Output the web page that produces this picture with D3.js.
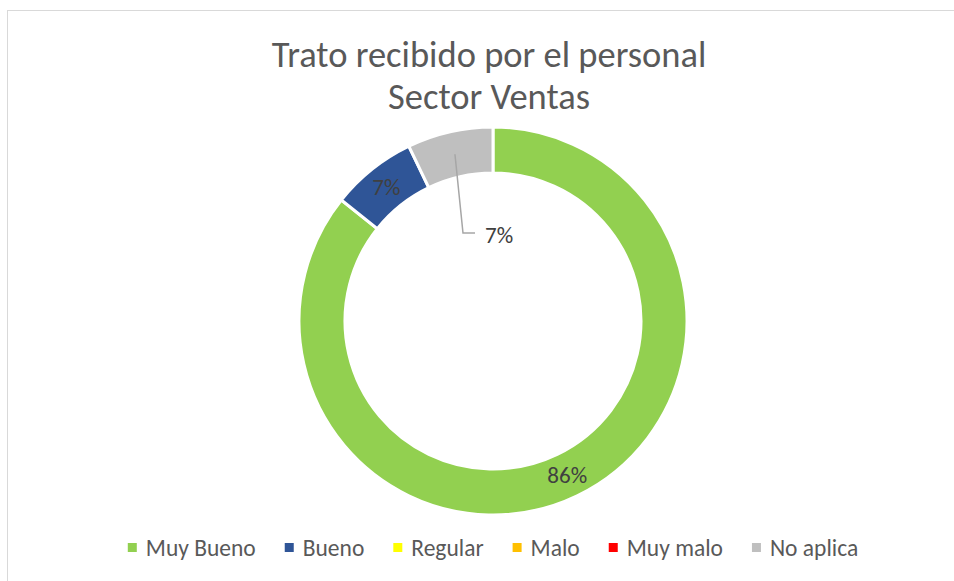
<!DOCTYPE html>
<html>
<head>
<meta charset="utf-8">
<script src="https://cdn.jsdelivr.net/npm/d3@7"></script>
<style>
  body { margin: 0; background: #fff; }
  svg { display: block; font-family: Calibri, Carlito, Lato, sans-serif; }
</style>
</head>
<body>
<svg id="chart" width="954" height="581"></svg>
<script>
// data
var categories = ["Muy Bueno", "Bueno", "Regular", "Malo", "Muy malo", "No aplica"];
var values = [12, 1, 0, 0, 0, 1];
var colors = ["#92d050", "#2f5597", "#ffff00", "#ffc000", "#ff0000", "#bfbfbf"];
var titleLines = ["Trato recibido por el personal", "Sector Ventas"];

var width = 954, height = 581;
var cx = 493, cy = 321;
var outerR = 194, innerR = 148;

var svg = d3.select("#chart");

// chart area border
svg.append("rect")
    .attr("x", 7.5)
    .attr("y", 10.5)
    .attr("width", width)
    .attr("height", height)
    .attr("fill", "#fff")
    .attr("stroke", "#d9d9d9")
    .attr("stroke-width", 1);

// title
svg.append("g").selectAll("text")
  .data(titleLines)
  .enter()
  .append("text")
    .attr("x", 489)
    .attr("y", function(d, i) { return 67 + i * 42; })
    .attr("text-anchor", "middle")
    .attr("fill", "#595959")
    .style("font-size", "36.5px")
    .text(function(d) { return d; });

var data = categories.map(function(c, i) {
  return {name: c, value: values[i], color: colors[i]};
});
var total = d3.sum(values);

var pie = d3.pie()
    .sort(null)
    .value(function(d) { return d.value; });

var arc = d3.arc()
    .innerRadius(innerR)
    .outerRadius(outerR);

var labelArc = d3.arc()
    .innerRadius((innerR + outerR) / 2)
    .outerRadius((innerR + outerR) / 2);

var arcs = pie(data);

var g = svg.append("g")
    .attr("transform", "translate(" + cx + "," + cy + ")");

g.selectAll("path")
  .data(arcs.filter(function(d) { return d.value > 0; }))
  .enter()
  .append("path")
    .attr("d", arc)
    .attr("fill", function(d) { return d.data.color; })
    .attr("stroke", "#fff")
    .attr("stroke-width", 3);

var fmt = function(d) { return Math.round(d.value / total * 100) + "%"; };

// labels inside the ring (Muy Bueno, Bueno)
g.selectAll("text.inlabel")
  .data(arcs.filter(function(d) { return d.value > 0 && d.data.name !== "No aplica"; }))
  .enter()
  .append("text")
    .attr("class", "inlabel")
    .attr("transform", function(d) { return "translate(" + labelArc.centroid(d) + ")"; })
    .attr("text-anchor", "middle")
    .attr("dy", "0.35em")
    .attr("fill", "#404040")
    .style("font-size", "23px")
    .text(fmt);

// No aplica label moved inward with leader line
var naArc = arcs[5];
var start = labelArc.centroid(naArc);
var labelPos = [-30, -88];
g.append("path")
    .attr("d", d3.line()([start, [labelPos[0], labelPos[1]], [labelPos[0] + 12, labelPos[1]]]))
    .attr("fill", "none")
    .attr("stroke", "#a6a6a6")
    .attr("stroke-width", 1.5);

g.append("text")
    .attr("x", labelPos[0] + 22)
    .attr("y", labelPos[1] + 2)
    .attr("dy", "0.35em")
    .attr("fill", "#404040")
    .style("font-size", "23px")
    .text(fmt(naArc));

// legend
var legend = svg.append("g");
var items = legend.selectAll("g")
  .data(data)
  .enter()
  .append("g");

items.append("rect")
    .attr("width", 9)
    .attr("height", 9)
    .attr("y", 543)
    .attr("fill", function(d) { return d.color; });

items.append("text")
    .attr("x", 18)
    .attr("y", 556)
    .attr("fill", "#595959")
    .style("font-size", "23.5px")
    .text(function(d) { return d.name; });

var xPos = 0;
items.each(function() {
  var w = d3.select(this).select("text").node().getComputedTextLength();
  d3.select(this).attr("transform", "translate(" + xPos + ",0)");
  xPos += 18 + w + 29;
});
var legendW = xPos - 29;
legend.attr("transform", "translate(" + (493 - legendW / 2) + ",0)");
</script>
</body>
</html>
